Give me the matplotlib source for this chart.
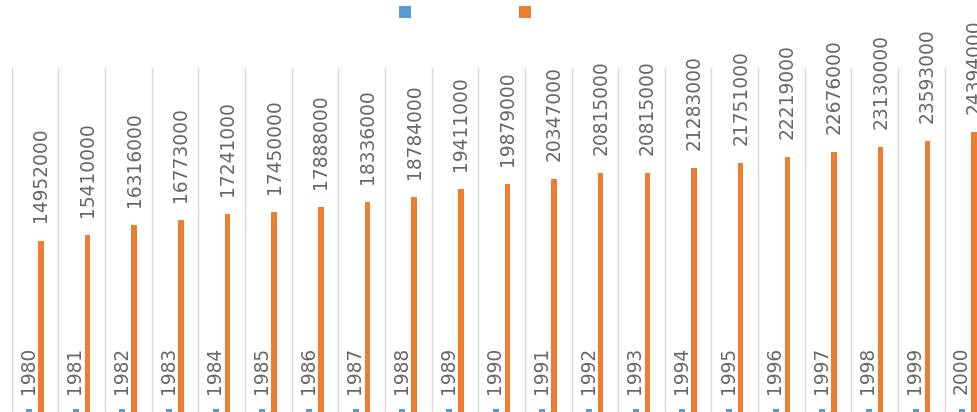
import matplotlib
matplotlib.use("Agg")
import matplotlib.pyplot as plt
import numpy as np
from matplotlib.patches import Patch

years = [1980, 1981, 1982, 1983, 1984, 1985, 1986, 1987, 1988, 1989, 1990,
         1991, 1992, 1993, 1994, 1995, 1996, 1997, 1998, 1999, 2000]
values = [14952000, 15410000, 16316000, 16773000, 17241000, 17450000, 17888000,
          18336000, 18784000, 19411000, 19879000, 20347000, 20815000, 20815000,
          21283000, 21751000, 22219000, 22676000, 23130000, 23593000, 24394000]

BLUE = "#5B9BD5"
ORANGE = "#ED7D31"
TXT = "#666666"

fig = plt.figure(figsize=(9.77, 4.12), dpi=100)
ax = fig.add_axes([11.7 / 977, 0.0, 979.7 / 977, (412 - 68) / 412])

x = np.arange(len(years))
off = 0.126
ax.bar(x - off, years, width=0.107, color=BLUE, linewidth=0, zorder=3)
# the tiny blue bars are drawn at their value with a small visible cap (Excel min-height look)
ax.plot(x - off, years, linestyle="none", marker="s", markersize=4.2,
        markerfacecolor=BLUE, markeredgewidth=0, zorder=4, clip_on=False)
ax.bar(x + off, values, width=0.118, color=ORANGE, linewidth=0, zorder=3)

for xi, v in zip(x, years):
    ax.annotate(str(v), (xi - off - 0.02, v), xytext=(0, 13), textcoords="offset points",
                rotation=90, ha="center", va="bottom", fontsize=13.4, color=TXT,
                annotation_clip=False)
for xi, v in zip(x, values):
    ax.annotate(str(v), (xi + off, v), xytext=(0, 13), textcoords="offset points",
                rotation=90, ha="center", va="bottom", fontsize=13.4, color=TXT,
                annotation_clip=False)

ax.set_xlim(-0.5, len(years) - 0.5)
ax.set_ylim(0, 30000000)
ax.set_xticks(np.arange(-0.5, len(years), 1.0))
ax.set_yticks([])
ax.tick_params(axis="x", length=0, labelbottom=False)
ax.grid(axis="x", color="#d9d9d9", linewidth=1.0, zorder=0)
for s in ax.spines.values():
    s.set_visible(False)

handles = [Patch(facecolor=BLUE, edgecolor="none"), Patch(facecolor=ORANGE, edgecolor="none")]
fig.legend(handles, ["", ""], loc="center", bbox_to_anchor=(465 / 977, 1 - 13 / 412),
           ncol=2, frameon=False, prop={"size": 10}, handlelength=0.9, handleheight=0.9,
           handletextpad=0.0, columnspacing=7.73, borderpad=0.0)

fig.savefig("out.png", dpi=100)
